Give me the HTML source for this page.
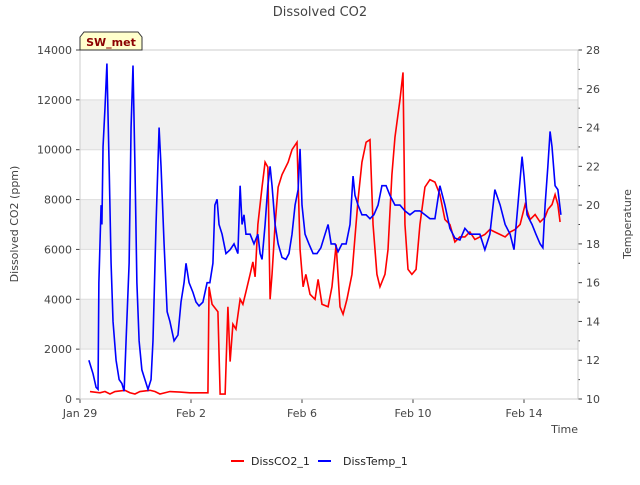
<!DOCTYPE html>
<html><head><meta charset="utf-8"><style>
body{margin:0;background:#fff;font-family:"Liberation Sans","DejaVu Sans",sans-serif}
svg text{font-family:"DejaVu Sans","Liberation Sans",sans-serif}
</style></head><body>
<svg id="c" width="640" height="480" xmlns="http://www.w3.org/2000/svg"></svg>
<script>
const co2Days=[0.36,0.72,0.90,1.08,1.26,1.62,1.80,1.98,2.16,2.52,2.70,2.88,3.24,3.60,3.96,4.32,4.61,4.65,4.76,4.97,5.05,5.23,5.33,5.41,5.51,5.62,5.77,5.87,5.98,6.13,6.23,6.31,6.41,6.56,6.67,6.77,6.85,6.92,7.03,7.14,7.28,7.50,7.64,7.82,7.93,8.04,8.14,8.29,8.47,8.58,8.72,8.94,9.08,9.23,9.37,9.48,9.62,9.80,10.02,10.16,10.31,10.45,10.56,10.70,10.81,10.99,11.10,11.24,11.35,11.53,11.64,11.71,11.82,11.96,12.11,12.25,12.43,12.61,12.79,12.97,13.15,13.33,13.51,13.69,13.87,14.05,14.23,14.41,14.59,14.77,14.95,15.14,15.32,15.50,15.68,15.86,16.04,16.22,16.40,16.58,16.76,16.86,17.01,17.12,17.22,17.30];
const co2Values=[300,250,300,200,300,350,250,200,300,350,300,200,300,280,250,250,250,4500,3800,3500,200,200,3700,1500,3000,2800,4000,3800,4300,5000,5500,4900,7000,8500,9500,9300,4000,5000,7000,8500,9000,9500,10000,10300,6000,4500,5000,4200,4000,4800,3800,3700,4500,6200,3700,3400,4000,5000,8000,9500,10300,10400,7000,5000,4500,5000,6000,9000,10500,12000,13100,7000,5200,5000,5200,7000,8500,8800,8700,8200,7200,7000,6300,6500,6500,6700,6400,6500,6600,6800,6700,6600,6500,6700,6800,7000,7800,7200,7400,7100,7300,7600,7800,8200,7800,7100];
const tempDays=[0.32,0.47,0.58,0.65,0.68,0.76,0.79,0.83,0.90,0.97,1.05,1.12,1.19,1.30,1.41,1.51,1.59,1.66,1.77,1.84,1.91,1.98,2.05,2.13,2.23,2.34,2.45,2.56,2.63,2.74,2.85,2.92,3.03,3.14,3.24,3.39,3.53,3.64,3.75,3.82,3.93,4.07,4.18,4.29,4.43,4.58,4.68,4.79,4.86,4.94,5.01,5.12,5.26,5.41,5.55,5.69,5.77,5.84,5.91,5.98,6.13,6.27,6.41,6.49,6.56,6.67,6.77,6.85,6.92,7.03,7.14,7.28,7.42,7.53,7.64,7.75,7.86,7.93,8.00,8.11,8.25,8.40,8.54,8.68,8.83,8.94,9.05,9.19,9.30,9.44,9.59,9.73,9.84,9.91,10.02,10.16,10.31,10.45,10.59,10.74,10.88,11.03,11.17,11.35,11.53,11.71,11.89,12.07,12.25,12.43,12.61,12.79,12.97,13.15,13.33,13.51,13.69,13.87,14.05,14.23,14.41,14.59,14.77,14.95,15.14,15.32,15.50,15.64,15.78,15.93,16.00,16.11,16.29,16.43,16.58,16.68,16.76,16.86,16.94,17.01,17.12,17.22,17.33];
const tempValues=[12.0,11.3,10.6,10.5,16,20,19,23,25,27.3,22,17,14,12,11,10.8,10.4,13,17,24,27.2,22,16,13,11.5,11,10.5,11,13,19,24,22,18,14.5,14,13,13.3,15,16,17,16,15.5,15,14.8,15,16,16,17,20,20.3,19,18.5,17.5,17.7,18,17.5,21,19,19.5,18.5,18.5,18,18.5,17.5,17.2,19,21,22,21,19,18,17.3,17.2,17.5,18.5,20,20.8,22.9,20,18.5,18,17.5,17.5,17.8,18.5,19,18,18,17.6,18,18,19,21.5,20.5,20,19.5,19.5,19.3,19.5,20,21,21,20.5,20,20,19.7,19.5,19.7,19.7,19.5,19.3,19.3,21,20,18.8,18.3,18.2,18.8,18.5,18.5,18.5,17.7,18.5,20.8,20,19,18.5,17.7,20,22.5,21.5,19.5,19,18.5,18,17.8,20,22,23.8,23,21,20.8,19.5];
const xTickLabels=["Jan 29","Feb 2","Feb 6","Feb 10","Feb 14"];
const xTickDays=[0,4,8,12,16];
const leftTicks=[0,2000,4000,6000,8000,10000,12000,14000];
const rightTicks=[10,12,14,16,18,20,22,24,26,28];

const NS="http://www.w3.org/2000/svg",svg=document.getElementById('c');
const L=80,R=578,T=50,B=399;
const xS=d=>L+d*27.75;
const yL=v=>B-(v/14000)*(B-T);
const yR=v=>B-((v-10)/18)*(B-T);
function el(t,a,txt){const e=document.createElementNS(NS,t);for(const k in a)e.setAttribute(k,a[k]);if(txt!=null)e.textContent=txt;svg.appendChild(e);return e;}
let e;
for(let i=0;i<leftTicks.length-1;i+=2){
 e=el('rect',{x:L,y:yL(leftTicks[i+2]||14000),width:R-L,height:yL(leftTicks[i+1])-yL(leftTicks[i+2]||14000),fill:'#ffffff'});
 
 
 e=el('rect',{x:L,y:yL(leftTicks[i+2]),width:R-L,height:yL(leftTicks[i+1])-yL(leftTicks[i+2]),fill:'#f0f0f0'});
 
 
}
leftTicks.forEach(v=>{
 e=el('line',{x1:L,x2:R,y1:yL(v),y2:yL(v),stroke:'#dddddd','stroke-width':1});
 
 
 e=el('line',{x1:L-4,x2:L,y1:yL(v),y2:yL(v),stroke:'#444'});
 
 
 e=el('text',{x:L-8,y:yL(v)+4,'text-anchor':'end','font-size':11,fill:'#444'},v);
 
 
});
for(let v=10;v<=28;v++){
 const major=v%2==0;
 e=el('line',{x1:R,x2:R+(major?4:2),y1:yR(v),y2:yR(v),stroke:'#444'});
 
 
}
rightTicks.forEach(v=>{
 e=el('text',{x:R+8,y:yR(v)+4,'font-size':11,fill:'#444'},v);
 
 
});
xTickDays.forEach((d,i)=>{
 e=el('line',{x1:xS(d),x2:xS(d),y1:B,y2:B+4,stroke:'#444'});
 
 
 e=el('text',{x:xS(d),y:B+18,'text-anchor':'middle','font-size':11,fill:'#444'},xTickLabels[i]);
 
 
});
e=el('rect',{x:L,y:T,width:R-L,height:B-T,fill:'none',stroke:'#cccccc'});


e=el('polyline',{points:co2Days.map((d,i)=>xS(d)+','+yL(co2Values[i])).join(' '),fill:'none',stroke:'#ff0000','stroke-width':1.6});


e=el('polyline',{points:tempDays.map((d,i)=>xS(d)+','+yR(tempValues[i])).join(' '),fill:'none',stroke:'#0000ff','stroke-width':1.6});


e=el('text',{x:320,y:16,'text-anchor':'middle','font-size':13,fill:'#444'},'Dissolved CO2');


e=el('text',{x:18,y:224,'text-anchor':'middle','font-size':11,fill:'#444',transform:'rotate(-90 18 224)'},'Dissolved CO2 (ppm)');


e=el('text',{x:631,y:224,'text-anchor':'middle','font-size':11,fill:'#444',transform:'rotate(-90 631 224)'},'Temperature');


e=el('text',{x:578,y:433,'text-anchor':'end','font-size':11,fill:'#444'},'Time');


e=el('polygon',{points:'80,37 84,32 138,32 142,37 142,50 80,50',fill:'#ffffcc',stroke:'#333','stroke-width':1});


e=el('text',{x:111,y:46,'text-anchor':'middle','font-size':11,'font-weight':'bold',fill:'#8b0000'},'SW_met');


e=el('line',{x1:231,x2:244,y1:461,y2:461,stroke:'#ff0000','stroke-width':2});


e=el('text',{x:251,y:465,'font-size':11,fill:'#222'},'DissCO2_1');


e=el('line',{x1:318,x2:331,y1:461,y2:461,stroke:'#0000ff','stroke-width':2});


e=el('text',{x:343,y:465,'font-size':11,fill:'#222'},'DissTemp_1');


</script>
</body></html>
